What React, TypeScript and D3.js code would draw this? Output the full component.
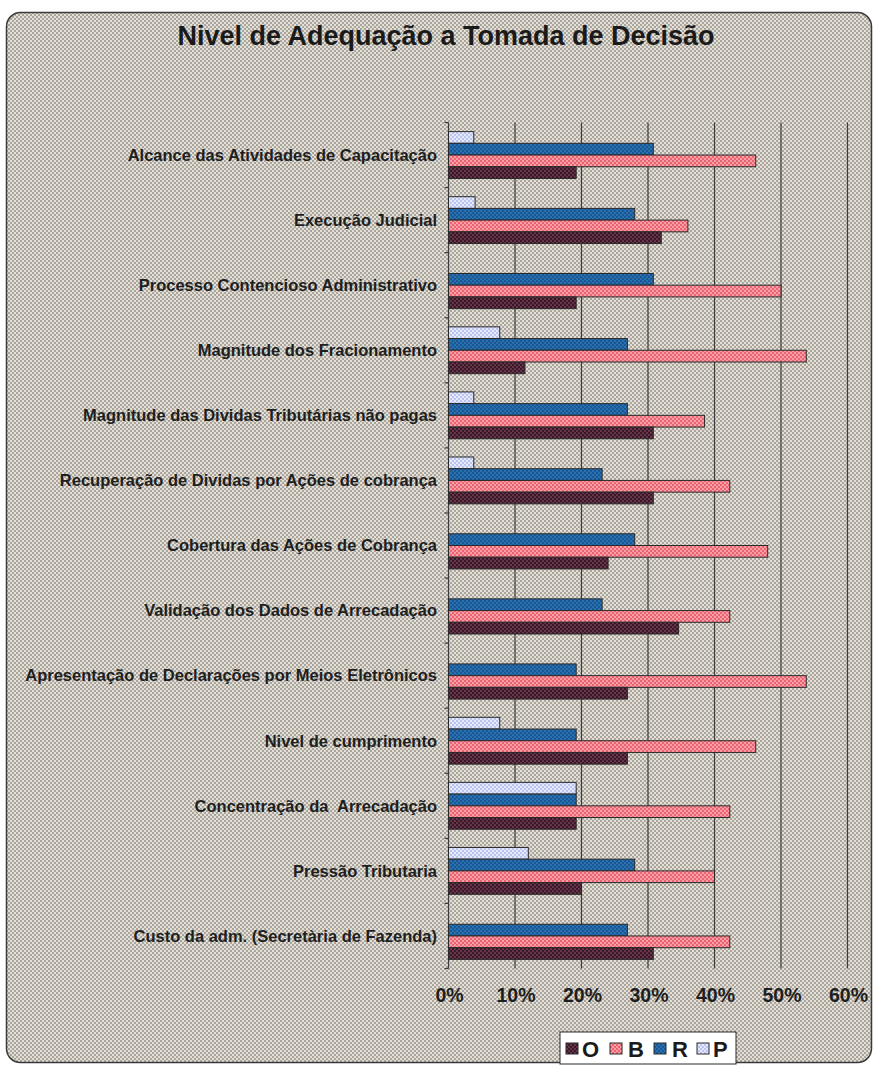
import React from "react";
import * as d3 from "d3";

const categories = [
  "Alcance das Atividades de Capacitação",
  "Execução Judicial",
  "Processo Contencioso Administrativo",
  "Magnitude dos Fracionamento",
  "Magnitude das Dividas Tributárias não pagas",
  "Recuperação de Dividas por Ações de cobrança",
  "Cobertura das Ações de Cobrança",
  "Validação dos Dados de Arrecadação",
  "Apresentação de Declarações por Meios Eletrônicos",
  "Nivel de cumprimento",
  "Concentração da  Arrecadação",
  "Pressão Tributaria",
  "Custo da adm. (Secretària de Fazenda)",
];

const seriesO = [19.2, 32, 19.2, 11.5, 30.8, 30.8, 24, 34.6, 26.9, 26.9, 19.2, 20, 30.8];
const seriesB = [46.2, 36, 50, 53.8, 38.5, 42.3, 48, 42.3, 53.8, 46.2, 42.3, 40, 42.3];
const seriesR = [30.8, 28, 30.8, 26.9, 26.9, 23.1, 28, 23.1, 19.2, 19.2, 19.2, 28, 26.9];
const seriesP = [3.8, 4, 0, 7.7, 3.8, 3.8, 0, 0, 0, 7.7, 19.2, 12, 0];

const seriesNames = ["O", "B", "R", "P"];
const tickValues = [0, 10, 20, 30, 40, 50, 60];
const title = "Nivel de Adequação a Tomada de Decisão";

const FONT = "'Liberation Sans', Arial, Helvetica, sans-serif";

const patterns: Record<string, [string, string]> = {
  O: ["#3a1626", "#64374a"],
  B: ["#ec6170", "#f7a0a8"],
  R: ["#175894", "#2c70b0"],
  P: ["#b9c3ee", "#e6eaff"],
};

export default function App() {
  const W = 877;
  const H = 1068;
  const x = d3.scaleLinear().domain([0, 60]).range([448.5, 847.5]);
  const y = d3
    .scaleBand<string>()
    .domain(categories)
    .range([122.5, 968.5])
    .paddingInner(0.28)
    .paddingOuter(0.14);
  const inner = d3
    .scaleBand<string>()
    .domain(["P", "R", "B", "O"])
    .range([0, y.bandwidth()]);

  const data: Record<string, number[]> = { O: seriesO, B: seriesB, R: seriesR, P: seriesP };
  const step = y.step();
  const y0 = 122.5;
  const y1 = 968.5;

  const legendX = 560;
  const legendItems = [
    { k: "O", sx: 566, tx: 582 },
    { k: "B", sx: 610, tx: 628 },
    { k: "R", sx: 654, tx: 672 },
    { k: "P", sx: 697, tx: 713 },
  ];

  return (
    <svg
      width={W}
      height={H}
      style={{ position: "absolute", left: 0, top: 0 }}
      xmlns="http://www.w3.org/2000/svg"
    >
      <defs>
        <pattern id="bg" width="4" height="4" patternUnits="userSpaceOnUse">
          <rect width="4" height="4" fill="#e4e0d8" />
          <rect width="2" height="2" fill="#aaa59c" />
          <rect x="2" y="2" width="2" height="2" fill="#aaa59c" />
        </pattern>
        {seriesNames.map((k) => (
          <pattern key={k} id={"p" + k} width="4" height="4" patternUnits="userSpaceOnUse">
            <rect width="4" height="4" fill={patterns[k][1]} />
            <rect width="2" height="2" fill={patterns[k][0]} />
            <rect x="2" y="2" width="2" height="2" fill={patterns[k][0]} />
          </pattern>
        ))}
      </defs>
      <rect x={0} y={0} width={W} height={H} fill="#ffffff" />
      <rect
        x={6.5}
        y={12.5}
        width={865}
        height={1050}
        rx={14}
        ry={14}
        fill="url(#bg)"
        stroke="#3a3a3a"
        strokeWidth={1.5}
      />
      <text
        x={446}
        y={45}
        textAnchor="middle"
        fontFamily={FONT}
        fontWeight="bold"
        fontSize={27}
        fill="#1a1a1a"
      >
        {title}
      </text>

      {/* gridlines */}
      {tickValues.map((t) => (
        <line
          key={"g" + t}
          x1={x(t)}
          x2={x(t)}
          y1={y0}
          y2={y1}
          stroke="#3c3c3c"
          strokeWidth={1.2}
        />
      ))}
      {/* category ticks */}
      {d3.range(categories.length + 1).map((i) => (
        <line
          key={"ct" + i}
          x1={x(0) - 4}
          x2={x(0)}
          y1={y0 + i * step}
          y2={y0 + i * step}
          stroke="#3c3c3c"
          strokeWidth={1.2}
        />
      ))}

      {/* bars */}
      {categories.map((c, i) => (
        <g key={c}>
          {["P", "R", "B", "O"].map((k) => {
            const v = data[k][i];
            if (!v) return null;
            return (
              <rect
                key={k}
                x={x(0)}
                y={(y(c) as number) + (inner(k) as number)}
                width={x(v) - x(0)}
                height={inner.bandwidth()}
                fill={"url(#p" + k + ")"}
                stroke="#2a2a2a"
                strokeWidth={1}
              />
            );
          })}
          <text
            x={437}
            y={(y(c) as number) + y.bandwidth() / 2}
            dy="0.35em"
            textAnchor="end"
            fontFamily={FONT}
            fontWeight="bold"
            fontSize={16.5}
            fill="#1e1e1e"
            style={{ whiteSpace: "pre" }}
          >
            {c}
          </text>
        </g>
      ))}

      {/* x tick labels */}
      {tickValues.map((t) => (
        <text
          key={"t" + t}
          x={x(t) + 1}
          y={1002}
          textAnchor="middle"
          fontFamily={FONT}
          fontWeight="bold"
          fontSize={19.5}
          fill="#1e1e1e"
        >
          {t + "%"}
        </text>
      ))}

      {/* legend */}
      <rect
        x={legendX}
        y={1032}
        width={176}
        height={32}
        fill="#ffffff"
        stroke="#2a2a2a"
        strokeWidth={1}
      />
      {legendItems.map((it) => (
        <g key={it.k}>
          <rect
            x={it.sx}
            y={1043}
            width={12}
            height={11}
            fill={"url(#p" + it.k + ")"}
            stroke="#2a2a2a"
            strokeWidth={1}
          />
          <text
            x={it.tx}
            y={1057}
            fontFamily={FONT}
            fontWeight="bold"
            fontSize={22}
            fill="#1a1a1a"
          >
            {it.k}
          </text>
        </g>
      ))}
    </svg>
  );
}
